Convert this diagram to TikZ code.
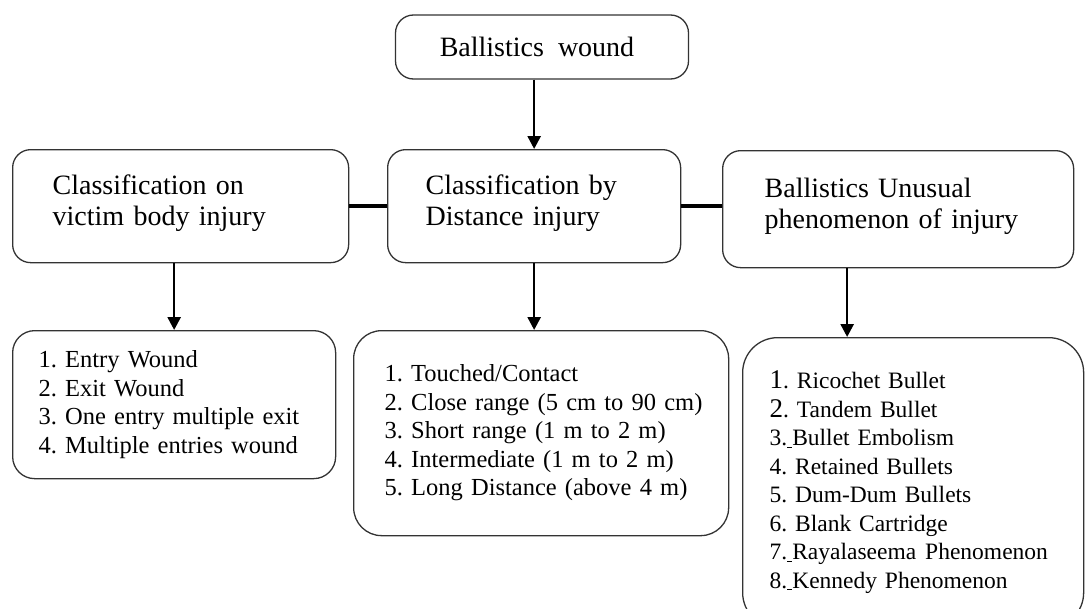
\documentclass[tikz,border=0pt]{standalone}
\usepackage{fontspec}
\setmainfont{Liberation Serif}
\usetikzlibrary{arrows.meta, positioning, calc}

\begin{document}
\frenchspacing
\begin{tikzpicture}[x=1pt, y=-1pt,
        headbox/.style={rectangle, draw=black!80, line width=1.3pt, rounded corners=18pt, align=left, inner ysep=4pt, font=\fontsize{28}{31}\selectfont},
        listbox/.style={rectangle, draw=black!80, line width=1.3pt, rounded corners=28pt, align=left, inner ysep=4pt, font=\fontsize{24.5}{28.5}\selectfont},
        arrow/.style={line width=2.6pt, -{Triangle[length=13pt, width=13pt]}},
        link/.style={line width=4.5pt}
    ]
        \useasboundingbox (0,0) rectangle (1087,608);

        % top level
        \node[headbox, anchor=center, align=center, minimum width=293pt, minimum height=64pt] (wound) at (542,47) {Ballistics\ \ wound\hspace{10pt}};

        % middle row
        \node[headbox, anchor=north west, inner xsep=40pt, text width=256pt, minimum height=113pt] (victim) at (12,149) {Classification on\\victim body injury\\[-19pt]\mbox{}};
        \node[headbox, anchor=north west, inner xsep=38pt, text width=217pt, minimum height=113pt] (distance) at (387,149) {Classification by\\Distance injury\\[-19pt]\mbox{}};
        \node[headbox, anchor=north west, inner xsep=42pt, text width=267pt, minimum height=117pt] (unusual) at (722,150) {Ballistics Unusual\\phenomenon of injury\\[-19pt]\mbox{}};

        % lists
        \node[listbox, rounded corners=22pt, anchor=north west, inner xsep=26pt, text width=271pt, minimum height=148pt] (victimlist) at (12,330) {\begin{tabular}{@{}l@{}}
            1. Entry Wound\\2. Exit Wound\\3. One entry multiple\ exit\\4. Multiple entries wound
        \end{tabular}};
        \node[listbox, anchor=north west, inner xsep=31pt, text width=313pt, minimum height=205pt] (distancelist) at (353,330) {\begin{tabular}{@{}l@{}}
            1. Touched/Contact\\2. Close range (5 cm to 90 cm)\\3. Short range (1 m to 2 m)\\4. Intermediate (1 m to 2 m)\\5. Long Distance (above 4 m)
        \end{tabular}};
        \node[listbox, rounded corners=35pt, anchor=north west, inner xsep=27pt, text width=287pt, minimum height=290pt, font=\fontsize{23.5}{28.5}\selectfont] (unusuallist) at (742,337) {\begin{tabular}{@{}l@{}}
            {\fontsize{27}{28.5}\selectfont 1}. Ricochet Bullet\\{\fontsize{27}{28.5}\selectfont 2}. Tandem Bullet\\3.\underline{\hspace{5pt}}Bullet Embolism\\4. Retained Bullets\\5. Dum-Dum Bullets\\6. Blank Cartridge\\7.\underline{\hspace{5pt}}Rayalaseema\hspace{9pt}Phenomenon\\8.\underline{\hspace{5pt}}Kennedy Phenomenon
        \end{tabular}};

        \draw[arrow] (wound.south -| distance.north) -- (distance.north);
        \draw[link] (victim.east) -- (distance.west);
        \draw[link] (distance.east) -- (distance.east -| unusual.west);
        \draw[arrow] (victim.south -| victimlist.north) -- (victimlist.north);
        \draw[arrow] (distance.south) -- (distance.south |- distancelist.north);
        \draw[arrow] ([xshift=-51pt]unusual.south) -- ([xshift=-51pt]unusual.south |- unusuallist.north);
    \end{tikzpicture}
\end{document}
